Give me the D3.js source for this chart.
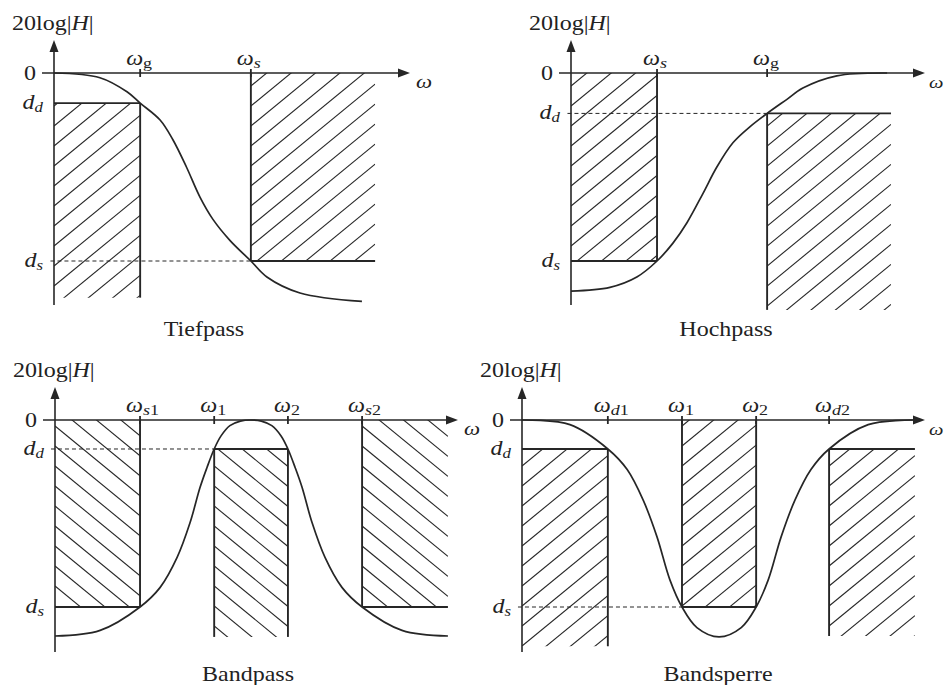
<!DOCTYPE html>
<html><head><meta charset="utf-8">
<script src="https://cdn.jsdelivr.net/npm/d3@7"></script>
<style>
body{margin:0;background:#fff}
svg{display:block}
text{font-family:"Liberation Serif","Times New Roman",serif;fill:#222}
</style>
</head><body><svg id="c" width="944" height="685"></svg>
<script>
// ================= DATA =================
const yAxisTitle = "20log|H|";
const xAxisSymbol = "ω";
const panelTitles = ["Tiefpass", "Hochpass", "Bandpass", "Bandsperre"];
const levelSubs = ["d", "s"];            // d_d, d_s

// --- Tiefpass ---
const tpFreq = [24.2, 55.3];
const tpFreqSubs = ["g", "s"];
const tpLevels = [-3.2, -20];
const tpCurveX = [0, 12.9, 20.5, 24.2, 29.8, 33.4, 37.2, 41, 44.7, 49.4, 55.3, 59.8, 69.1, 86.5];
const tpCurveY = [0, -0.5, -2, -3.2, -5, -7.1, -10, -13.2, -15.6, -17.8, -20, -21.7, -23.4, -24.3];
const tpBoxes = [[0, 24.2, -3.2, -23.9], [55.3, 90.2, 0, -20]];
const tpDashed = [[-1, 55.3, -20]];

// --- Hochpass ---
const hpFreq = [24.3, 55.4];
const hpFreqSubs = ["s", "g"];
const hpLevels = [-4.3, -20];
const hpCurveX = [0, 11, 18.6, 24.3, 28.8, 32.8, 37.3, 41.2, 45.8, 50.6, 55.4, 61, 65.5, 75.1, 89.3];
const hpCurveY = [-23.2, -22.8, -21.7, -20, -18.1, -15.9, -12.8, -10, -7.4, -5.7, -4.3, -2.8, -1.6, -0.3, 0];
const hpBoxes = [[0, 24.3, 0, -20], [55.4, 90.4, -4.3, -25.2]];
const hpDashed = [[-1, 55.4, -4.3]];

// --- Bandpass ---
const bpFreq = [21.1, 39.5, 57.8, 76.2];
const bpFreqSubs = ["s1", "1", "2", "s2"];
const bpLevels = [-3.1, -20];
const bpCurveX = [0, 11.2, 21.1, 26.1, 30.3, 33.5, 36, 37.7, 39.5, 41.2, 43.4, 46, 48.6, 51.2, 53.8, 56.1, 57.8, 59.6, 61.3, 63.8, 67, 71.2, 76.2, 86.1, 97.5];
const bpCurveY = [-23.1, -22.5, -20, -17.9, -14.7, -11, -7.2, -5.1, -3.1, -1.7, -0.6, -0.12, 0, -0.12, -0.6, -1.7, -3.1, -5.1, -7.2, -11, -14.7, -17.9, -20, -22.5, -23.1];
const bpBoxes = [[0, 21.1, 0, -20], [39.5, 57.8, -3.1, -23.2], [76.2, 97.5, 0, -20]];
const bpDashed = [[-1, 39.5, -3.1]];

// --- Bandsperre ---
const bsFreq = [21.3, 39.7, 58.1, 76.2];
const bsFreqSubs = ["d1", "1", "2", "d2"];
const bsLevels = [-3.1, -20];
const bsCurveX = [0, 11.9, 21.3, 26.1, 30.1, 33.5, 36.7, 39.7, 43.4, 48.9, 54.4, 58.1, 61.1, 64.3, 67.7, 71.7, 76.2, 85.9, 97];
const bsCurveY = [0, -0.5, -3.1, -5.3, -8.6, -12.5, -17.1, -20, -22.2, -23.2, -22.2, -20, -17.1, -12.5, -8.6, -5.3, -3.1, -0.5, 0];
const bsBoxes = [[0, 21.3, -3.1, -24.2], [39.7, 58.1, 0, -20], [76.2, 97.5, -3.1, -23.1]];
const bsDashed = [[-1, 39.7, -20]];

// ================= LAYOUT =================
const SX = 1.2;       // horizontal text stretch of the source
const INK = "#262626";
const panels = [
  {title: panelTitles[0], axisX: 54, tipX: 410, zeroY: 73, refY: 261, topY: 40, bottomY: 305,
   titleX: 204, titleY: 336, titleLabelY: 30, symDx: 6, symSize: 19,
   freq: tpFreq, subs: tpFreqSubs, levels: tpLevels, cx: tpCurveX, cy: tpCurveY,
   boxes: tpBoxes, sides: ["TR", "LB"], hatch: ["/", "/"], dashed: tpDashed},
  {title: panelTitles[1], axisX: 571, tipX: 925, zeroY: 73, refY: 261, topY: 40, bottomY: 305,
   titleX: 726, titleY: 336, titleLabelY: 30, symDx: 4, symSize: 17,
   freq: hpFreq, subs: hpFreqSubs, levels: hpLevels, cx: hpCurveX, cy: hpCurveY,
   boxes: hpBoxes, sides: ["RB", "TL"], hatch: ["/", "/"], dashed: hpDashed},
  {title: panelTitles[2], axisX: 55, tipX: 458, zeroY: 420, refY: 607, topY: 387, bottomY: 652,
   titleX: 248, titleY: 681, titleLabelY: 377, symDx: 6, symSize: 19,
   freq: bpFreq, subs: bpFreqSubs, levels: bpLevels, cx: bpCurveX, cy: bpCurveY,
   boxes: bpBoxes, sides: ["RB", "TLR", "LB"], hatch: ["\\", "\\", "\\"], dashed: bpDashed},
  {title: panelTitles[3], axisX: 522, tipX: 925, zeroY: 420, refY: 607, topY: 387, bottomY: 652,
   titleX: 718, titleY: 681, titleLabelY: 377, symDx: 4, symSize: 17,
   freq: bsFreq, subs: bsFreqSubs, levels: bsLevels, cx: bsCurveX, cy: bsCurveY,
   boxes: bsBoxes, sides: ["TR", "LRB", "TL"], hatch: ["/", "/", "/"], dashed: bsDashed}
];

const svg = d3.select("#c");
svg.append("rect").attr("width", 944).attr("height", 685).attr("fill", "#fff");
const defs = svg.append("defs");

function stext(g, x, y, size, anchor) {
  return g.append("text")
    .attr("transform", `translate(${x},${y}) scale(${SX},1)`)
    .attr("font-size", size)
    .attr("text-anchor", anchor || "start");
}
function isItalic(ch) { return /[a-z]/.test(ch) && ch !== "g"; }

panels.forEach((p, pi) => {
  const g = svg.append("g");
  const x = d3.scaleLinear().domain([0, 100]).range([p.axisX, p.tipX]);
  const y = d3.scaleLinear().domain([0, -20]).range([p.zeroY, p.refY]);

  // ---- hatched boxes ----
  p.boxes.forEach((b, bi) => {
    const rx0 = x(b[0]), rx1 = x(b[1]), ry0 = y(b[2]), ry1 = y(b[3]);
    const id = `clip${pi}_${bi}`;
    defs.append("clipPath").attr("id", id).append("rect")
      .attr("x", rx0).attr("y", ry0).attr("width", rx1 - rx0).attr("height", ry1 - ry0);
    const hg = g.append("g").attr("clip-path", `url(#${id})`);
    const k = 0.82, step = 20, w = rx1 - rx0;
    const lines = [];
    if (p.hatch[bi] === "/") {
      const start = Math.floor(ry0 / step) * step + 6;
      for (let c = start; c <= ry1 + k * w + step; c += step) lines.push([rx0, c, rx1, c - k * w]);
    } else {
      const start = Math.floor((ry0 - k * w) / step) * step + 6;
      for (let c = start; c <= ry1 + step; c += step) lines.push([rx0, c, rx1, c + k * w]);
    }
    hg.selectAll("line").data(lines).join("line")
      .attr("x1", d => d[0]).attr("y1", d => d[1]).attr("x2", d => d[2]).attr("y2", d => d[3])
      .attr("stroke", INK).attr("stroke-width", 1.1);

    const s = p.sides[bi];
    const edges = [];
    if (s.includes("T")) edges.push([rx0, ry0, rx1, ry0]);
    if (s.includes("B")) edges.push([rx0, ry1, rx1, ry1]);
    if (s.includes("L")) edges.push([rx0, ry0, rx0, ry1]);
    if (s.includes("R")) edges.push([rx1, ry0, rx1, ry1]);
    g.selectAll(null).data(edges).join("line")
      .attr("x1", d => d[0]).attr("y1", d => d[1]).attr("x2", d => d[2]).attr("y2", d => d[3])
      .attr("stroke", INK).attr("stroke-width", 1.9);
  });

  // ---- dashed reference lines ----
  g.selectAll(null).data(p.dashed).join("line")
    .attr("x1", d => x(d[0])).attr("x2", d => x(d[1]))
    .attr("y1", d => y(d[2])).attr("y2", d => y(d[2]))
    .attr("stroke", INK).attr("stroke-width", 1).attr("stroke-dasharray", "4,3");

  // ---- axes ----
  g.append("line").attr("x1", p.axisX - 12).attr("x2", p.tipX - 6)
    .attr("y1", p.zeroY).attr("y2", p.zeroY).attr("stroke", INK).attr("stroke-width", 1.6);
  g.append("path").attr("d", `M${p.tipX},${p.zeroY} l-12,-4.5 l0,9 Z`).attr("fill", INK);
  g.append("line").attr("x1", p.axisX).attr("x2", p.axisX)
    .attr("y1", p.bottomY).attr("y2", p.topY + 6).attr("stroke", INK).attr("stroke-width", 1.6);
  g.append("path").attr("d", `M${p.axisX},${p.topY} l-4.5,12 l9,0 Z`).attr("fill", INK);

  // ticks + frequency labels
  p.freq.forEach((f, i) => {
    g.append("line").attr("x1", x(f)).attr("x2", x(f))
      .attr("y1", p.zeroY - 4).attr("y2", p.zeroY + 4).attr("stroke", INK).attr("stroke-width", 1.8);
    const t = stext(g, x(f) - 14, p.zeroY - 8, 20);
    t.append("tspan").attr("font-style", "italic").text("ω");
    p.subs[i].split("").forEach((ch, j) => {
      const ts = t.append("tspan").attr("font-size", 15)
        .attr("font-style", isItalic(ch) ? "italic" : "normal").text(ch);
      if (j === 0) ts.attr("dy", 3);
    });
  });

  // axis-end symbol
  stext(g, p.tipX + p.symDx, p.zeroY + 15, p.symSize).attr("font-style", "italic").text(xAxisSymbol);

  // zero label
  stext(g, p.axisX - 18, p.zeroY + 7, 20, "end").text("0");

  // level labels
  p.levels.forEach((lv, i) => {
    const t = stext(g, p.axisX - 11, y(lv) + 6, 20, "end");
    t.append("tspan").attr("font-style", "italic").text("d");
    t.append("tspan").attr("font-style", "italic").attr("font-size", 14).attr("dy", 3).text(levelSubs[i]);
  });

  // y title
  const yt = stext(g, p.axisX - 42, p.titleLabelY, 20);
  yt.append("tspan").text("20log|");
  yt.append("tspan").attr("font-style", "italic").text("H");
  yt.append("tspan").text("|");

  // ---- response curve ----
  const pts = p.cx.map((v, i) => [v, p.cy[i]]);
  g.append("path").datum(pts)
    .attr("d", d3.line().x(d => x(d[0])).y(d => y(d[1])).curve(d3.curveCatmullRom.alpha(0.5)))
    .attr("fill", "none").attr("stroke", INK).attr("stroke-width", 1.7);

  // panel title
  stext(g, p.titleX, p.titleY, 20, "middle").text(p.title);
});
</script>
</body></html>
